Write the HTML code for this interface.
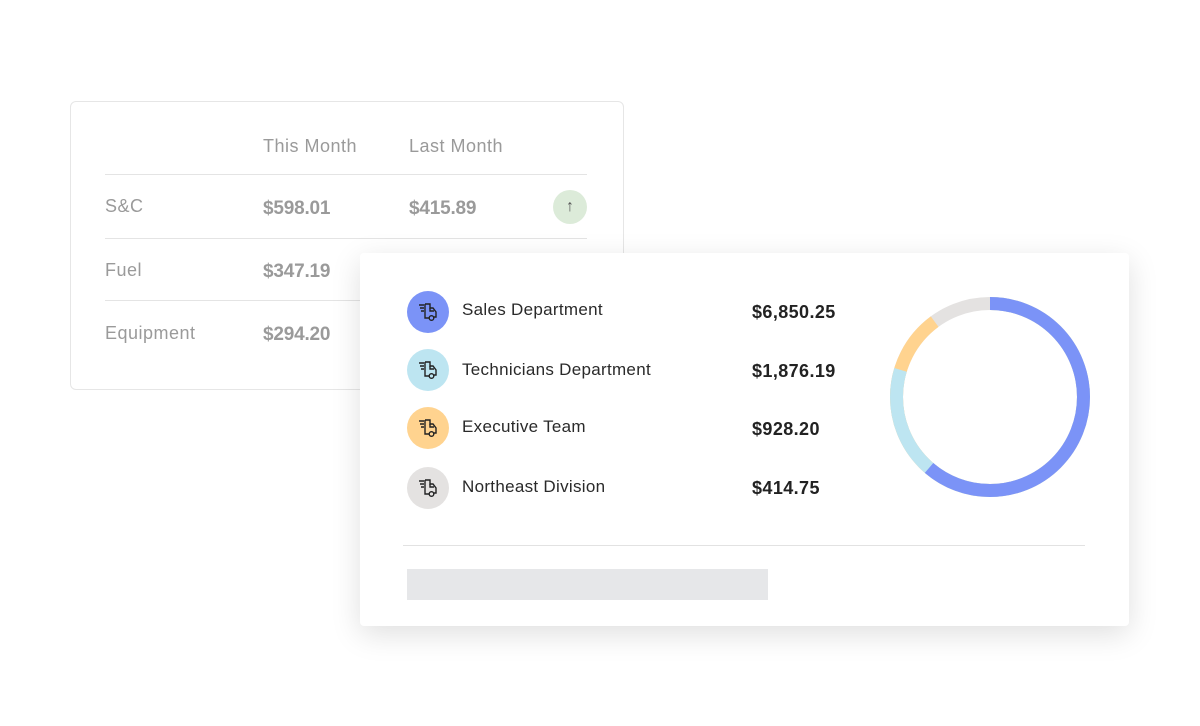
<!DOCTYPE html>
<html><head><style>
body{margin:0;width:1200px;height:726px;background:#fff;position:relative;overflow:hidden;font-family:"Liberation Sans",sans-serif}
.a{position:absolute;white-space:nowrap}
.back{position:absolute;left:70px;top:101px;width:552px;height:287px;border:1px solid #e6e6e6;border-radius:6px;background:#fff}
.g{color:#9a9a9a;font-size:18px;letter-spacing:0.5px}
.gb{color:#9a9a9a;font-size:19px;font-weight:bold;letter-spacing:-0.2px}
.hl{position:absolute;left:105px;width:482px;height:1px;background:#e4e4e4}
.front{position:absolute;left:360px;top:253px;width:769px;height:373px;background:#fff;border-radius:4px;box-shadow:0 8px 30px rgba(0,0,0,0.13)}
.ic{position:absolute;left:407px;width:42px;height:42px;border-radius:50%}
.ic svg{position:absolute;left:9px;top:9px}
.n{font-size:17px;color:#2a2a2a;letter-spacing:0.3px}
.v{font-size:18px;font-weight:bold;color:#222;letter-spacing:0.4px}
</style></head><body>
<div class="back"></div>
<div class="a g" style="left:263px;top:136px">This Month</div>
<div class="a g" style="left:409px;top:136px">Last Month</div>
<div class="hl" style="top:174px"></div>
<div class="hl" style="top:238px"></div>
<div class="hl" style="top:300px"></div>
<div class="a g" style="left:105px;top:196px">S&amp;C</div>
<div class="a gb" style="left:263px;top:198px">$598.01</div>
<div class="a gb" style="left:409px;top:198px">$415.89</div>
<div class="a" style="left:553px;top:190px;width:34px;height:34px;border-radius:50%;background:#dcebd9;color:#555;font-size:16px;text-align:center;line-height:34px">↑</div>
<div class="a g" style="left:105px;top:260px">Fuel</div>
<div class="a gb" style="left:263px;top:261px">$347.19</div>
<div class="a g" style="left:105px;top:323px">Equipment</div>
<div class="a gb" style="left:263px;top:324px">$294.20</div>

<div class="front"></div>
<div class="ic" style="top:291px;background:#7b93f7"><svg width="24" height="24" viewBox="0 0 24 24" fill="none" stroke="#222" stroke-width="1.4"><path d="M3 5h5M4 8h4M5 11h3M9 4h5v4h3l3 4v5h-2M9 4v14h4"/><circle cx="15.5" cy="18" r="2.3"/><path d="M14 8v3h4"/></svg></div>
<div class="ic" style="top:349px;background:#bde5f1"><svg width="24" height="24" viewBox="0 0 24 24" fill="none" stroke="#222" stroke-width="1.4"><path d="M3 5h5M4 8h4M5 11h3M9 4h5v4h3l3 4v5h-2M9 4v14h4"/><circle cx="15.5" cy="18" r="2.3"/><path d="M14 8v3h4"/></svg></div>
<div class="ic" style="top:407px;background:#ffd38f"><svg width="24" height="24" viewBox="0 0 24 24" fill="none" stroke="#222" stroke-width="1.4"><path d="M3 5h5M4 8h4M5 11h3M9 4h5v4h3l3 4v5h-2M9 4v14h4"/><circle cx="15.5" cy="18" r="2.3"/><path d="M14 8v3h4"/></svg></div>
<div class="ic" style="top:467px;background:#e4e2e1"><svg width="24" height="24" viewBox="0 0 24 24" fill="none" stroke="#222" stroke-width="1.4"><path d="M3 5h5M4 8h4M5 11h3M9 4h5v4h3l3 4v5h-2M9 4v14h4"/><circle cx="15.5" cy="18" r="2.3"/><path d="M14 8v3h4"/></svg></div>
<div class="a n" style="left:462px;top:300px">Sales Department</div>
<div class="a n" style="left:462px;top:360px">Technicians Department</div>
<div class="a n" style="left:462px;top:417px">Executive Team</div>
<div class="a n" style="left:462px;top:477px">Northeast Division</div>
<div class="a v" style="left:752px;top:302px">$6,850.25</div>
<div class="a v" style="left:752px;top:361px">$1,876.19</div>
<div class="a v" style="left:752px;top:419px">$928.20</div>
<div class="a v" style="left:752px;top:478px">$414.75</div>
<div class="a" style="left:403px;top:545px;width:682px;height:1px;background:#e2e2e2"></div>
<div class="a" style="left:407px;top:569px;width:361px;height:31px;background:#e6e7e9"></div>
<svg class="a" style="left:890px;top:296px" width="200" height="202" viewBox="0 0 200 202">
<g transform="translate(100,101) rotate(-90)" fill="none" stroke-width="13">
<circle r="93.5" stroke="#e4e2e1"/>
<circle r="93.5" stroke="#ffd38f" stroke-dasharray="528 60"/>
<circle r="93.5" stroke="#bde5f1" stroke-dasharray="468 120"/>
<circle r="93.5" stroke="#7b93f7" stroke-dasharray="360 228"/>
</g></svg>
</body></html>
